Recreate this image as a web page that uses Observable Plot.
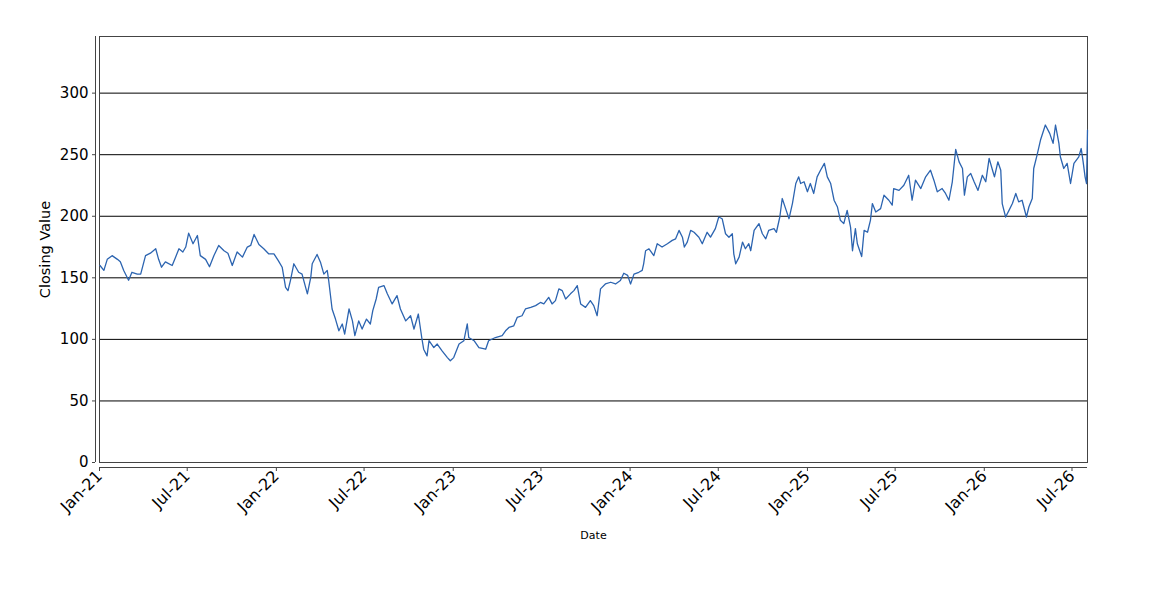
<!DOCTYPE html>
<html>
<head>
<meta charset="utf-8">
<script src="https://cdn.jsdelivr.net/npm/d3@7"></script>
<script src="https://cdn.jsdelivr.net/npm/@observablehq/plot@0.6"></script>
<style>
  body { margin: 0; background: #fff; }
  #chart svg { display: block; }
</style>
</head>
<body>
<div id="chart"></div>
<script>
const dates = [
"2021-01-02","2021-01-10","2021-01-17","2021-01-27","2021-02-07","2021-02-13","2021-02-20","2021-03-02","2021-03-09","2021-03-20",
"2021-03-27","2021-04-06","2021-04-16","2021-04-27","2021-05-03","2021-05-09","2021-05-17","2021-05-31","2021-06-07","2021-06-14",
"2021-06-22","2021-06-28","2021-07-04","2021-07-13","2021-07-22","2021-07-28","2021-08-08","2021-08-16","2021-08-25","2021-09-04",
"2021-09-15","2021-09-23","2021-10-02","2021-10-12","2021-10-23","2021-11-02","2021-11-09","2021-11-16","2021-11-26","2021-12-06",
"2021-12-16","2021-12-27","2022-01-05","2022-01-13","2022-01-20","2022-01-25","2022-01-30","2022-02-06","2022-02-16","2022-02-23",
"2022-03-06","2022-03-13","2022-03-16","2022-03-26","2022-04-02","2022-04-09","2022-04-16","2022-04-19","2022-04-26","2022-05-03",
"2022-05-10","2022-05-17","2022-05-22","2022-05-31","2022-06-07","2022-06-12","2022-06-20","2022-06-27","2022-07-06","2022-07-14",
"2022-07-19","2022-07-26","2022-07-31","2022-08-11","2022-08-18","2022-08-28","2022-09-07","2022-09-14","2022-09-25","2022-10-05",
"2022-10-12","2022-10-21","2022-10-28","2022-11-01","2022-11-08","2022-11-12","2022-11-22","2022-11-29","2022-12-09","2022-12-20",
"2022-12-26","2023-01-02","2023-01-13","2023-01-23","2023-01-30","2023-02-02","2023-02-13","2023-02-23","2023-03-09","2023-03-15",
"2023-03-29","2023-04-12","2023-04-19","2023-04-26","2023-05-06","2023-05-13","2023-05-23","2023-05-30","2023-06-10","2023-06-20",
"2023-06-30","2023-07-07","2023-07-17","2023-07-24","2023-07-31","2023-08-07","2023-08-14","2023-08-21","2023-08-31","2023-09-07",
"2023-09-14","2023-09-21","2023-10-01","2023-10-11","2023-10-18","2023-10-25","2023-11-01","2023-11-11","2023-11-22","2023-12-02",
"2023-12-12","2023-12-19","2023-12-27","2024-01-02","2024-01-09","2024-01-19","2024-01-26","2024-01-29","2024-02-02","2024-02-09",
"2024-02-19","2024-02-26","2024-03-07","2024-03-18","2024-03-28","2024-04-04","2024-04-11","2024-04-18","2024-04-22","2024-04-28",
"2024-05-05","2024-05-12","2024-05-22","2024-05-29","2024-06-08","2024-06-15","2024-06-25","2024-07-02","2024-07-09","2024-07-16",
"2024-07-23","2024-07-30","2024-08-02","2024-08-06","2024-08-13","2024-08-20","2024-08-26","2024-09-02","2024-09-06","2024-09-13",
"2024-09-23","2024-09-30","2024-10-07","2024-10-13","2024-10-24","2024-10-29","2024-11-05","2024-11-10","2024-11-17","2024-11-24",
"2024-12-01","2024-12-08","2024-12-14","2024-12-18","2024-12-25","2025-01-01","2025-01-07","2025-01-14","2025-01-21","2025-01-28",
"2025-02-05","2025-02-11","2025-02-18","2025-02-25","2025-03-04","2025-03-10","2025-03-17","2025-03-24","2025-03-31","2025-04-04",
"2025-04-10","2025-04-14","2025-04-23","2025-04-28","2025-05-05","2025-05-11","2025-05-15","2025-05-22","2025-06-01","2025-06-08",
"2025-06-18","2025-06-25","2025-06-28","2025-07-09","2025-07-19","2025-07-29","2025-08-05","2025-08-12","2025-08-23","2025-09-02",
"2025-09-12","2025-09-19","2025-09-26","2025-10-06","2025-10-13","2025-10-20","2025-10-27","2025-11-03","2025-11-10","2025-11-17",
"2025-11-21","2025-11-27","2025-12-04","2025-12-11","2025-12-19","2025-12-28","2026-01-04","2026-01-11","2026-01-18","2026-01-22",
"2026-01-29","2026-02-04","2026-02-07","2026-02-14","2026-02-21","2026-02-28","2026-03-07","2026-03-13","2026-03-20","2026-03-29",
"2026-04-03","2026-04-10","2026-04-13","2026-04-20","2026-04-27","2026-05-07","2026-05-16","2026-05-23","2026-05-28","2026-06-04",
"2026-06-07","2026-06-14","2026-06-21","2026-06-28","2026-07-05","2026-07-15","2026-07-20","2026-07-24","2026-07-28","2026-07-31",
"2026-08-02"
];
const closes = [
160,156,165,168,165,163,156,148,154.5,153,
153,168,170,173.6,165,158.6,163,160,166.8,173.6,
171,175,186.3,177.7,184.4,168,165,159,168,176.3,
172,170,160,171,166.8,175,176.3,185.2,177,173.6,
169.5,169.5,164,158.6,142.3,139.6,147.8,161.4,154.5,153,
137,150.4,161.4,169,162.7,153,156,147.8,124.7,116.5,
107,112.5,104.3,124.7,115,103,115,108.4,116.5,112.5,
123.3,132.8,142.3,143.7,137,128.8,135.5,124.7,115,119.2,
108.4,120.6,101.5,92,86.6,98.9,93.4,96.2,90.7,85.2,
82.6,85.2,96.2,98.9,112.5,101.5,98.9,93.4,92,98.9,
101.5,103,107,109.7,111,117.8,119.2,124.7,126,127.4,
130,128.8,134.1,128.8,131.5,141,139.6,132.8,137,139.6,
143.7,128.8,126,131.5,127.4,119.2,141,145,146.4,145,
147.8,153.7,152,145,153,154.5,156,161.4,172,173.6,
168,177.7,175,177.7,180.4,181.7,188.5,183,175,179,
188.5,187,183,177.7,187,183,189.9,199.4,198,185.8,
183,185.8,169.5,161.4,166.8,179,173.6,177.7,172,188.5,
194,185.8,181.7,188.5,189.9,187,199.4,214.4,206.2,198,
210.3,226.6,232,226.6,228,219.9,226.6,218.5,232,237.4,
242.9,232,226.6,213,207.5,196.7,194,204.8,191.2,172,
189.9,177.7,167.3,188.5,187,196.7,210.3,203.4,206.2,217.1,
213,209,222.5,221,225.2,233.3,213,229.3,222.5,232,
237.4,229.3,219.9,222.5,218.5,213,228,254.3,244.2,238.8,
217.1,232,234.7,228,221,233.3,228,247,237.4,232,
244.2,237.4,210.3,199.4,204.8,210.3,218.5,211.7,213,199.4,
207.5,214.4,238.8,249.8,261.9,274.1,267.3,259.2,274.1,259.2,
248.3,238.8,243,226.6,243,248.3,255,244.2,232,226.6,
270
];
const yTicks = [0, 50, 100, 150, 200, 250, 300];
const xTickDates = ["2021-01-01","2021-07-01","2022-01-01","2022-07-01","2023-01-01","2023-07-01",
  "2024-01-01","2024-07-01","2025-01-01","2025-07-01","2026-01-01","2026-07-01"];
const xStart = "2021-01-01";
const xEnd = "2026-08-02";
const yMax = 346;

const parse = d3.utcParse("%Y-%m-%d");
const data = dates.map((d, i) => ({date: parse(d), close: closes[i]}));
const fmt = d3.utcFormat("%b-%y");

const font = "'DejaVu Sans', Verdana, sans-serif";

const chart = Plot.plot({
  width: 1150,
  height: 560,
  marginTop: 36,
  marginBottom: 98,
  marginLeft: 99,
  marginRight: 63,
  style: {fontFamily: font, fontSize: "15px", color: "#000", background: "#fff"},
  x: {type: "utc", domain: [parse(xStart), parse(xEnd)]},
  y: {domain: [0, yMax]},
  marks: [
    Plot.ruleY(yTicks.slice(1), {stroke: "#000", strokeWidth: 1}),
    Plot.frame({stroke: "#444", strokeWidth: 1}),
    Plot.line(data, {x: "date", y: "close", stroke: "#2c64b0", strokeWidth: 1.3}),
    // detached axis lines
    Plot.ruleX([parse(xStart)], {dx: -4, stroke: "#444"}),
    Plot.ruleY([0], {dy: 5, stroke: "#444"}),
    Plot.axisY({ticks: yTicks, tickSize: 3, tickPadding: 4, dx: -4, label: null,
      fontSize: 15, stroke: "#444"}),
    Plot.axisX({ticks: xTickDates.map(parse), tickFormat: fmt, tickSize: 3, dy: 6,
      tickRotate: -45, tickPadding: 2, dx: 0, label: null, fontSize: 16, stroke: "#444"}),
    Plot.text(["Closing Value"], {frameAnchor: "left", textAnchor: "middle", dx: -54, rotate: -90,
      fontSize: 14.5, fill: "#000"}),
    Plot.text(["Date"], {frameAnchor: "bottom", dy: 76, fontSize: 11, fill: "#000"})
  ]
});
document.getElementById("chart").appendChild(chart);
</script>
</body>
</html>
